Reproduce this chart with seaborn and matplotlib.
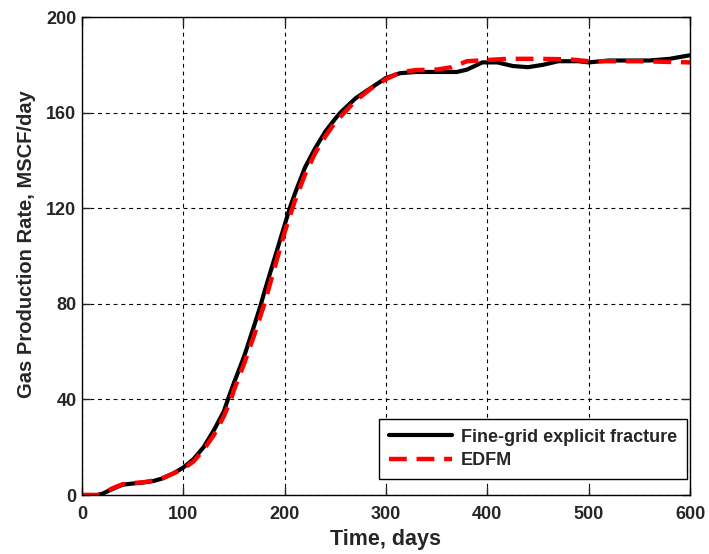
import matplotlib
matplotlib.use("Agg")
import matplotlib.pyplot as plt
import seaborn as sns
import pandas as pd

# Fine-grid explicit fracture
fine_days = [0, 15, 20, 30, 40, 50, 60, 70, 80, 90, 100, 110, 120, 130, 140, 144, 150,
             160, 170, 176, 180, 190, 200, 205, 210, 220, 230, 240, 250, 255, 270, 284,
             300, 314, 330, 350, 370, 380, 395, 410, 425, 440, 455, 470, 490, 500, 520,
             560, 580, 600]
fine_rate = [0, 0, 0.5, 2.5, 4.3, 4.8, 5.2, 5.8, 7, 9, 11.5, 15, 20, 27, 35, 40, 47,
             58, 71, 79, 85, 99, 113, 120, 126, 137, 145, 152, 157.5, 160, 166, 170,
             174.5, 176.5, 177, 177, 177, 178, 181, 181, 179.5, 179, 180, 181.5, 181.5, 181, 181.8,
             181.8, 182.5, 184]

# EDFM
edfm_days = [0, 15, 20, 30, 40, 50, 60, 70, 80, 90, 100, 110, 120, 130, 140, 147, 150,
             160, 170, 180, 190, 200, 210, 220, 230, 240, 250, 260, 270, 285, 300, 315,
             330, 350, 365, 380, 400, 420, 450, 480, 500, 550, 600]
edfm_rate = [0, 0, 0.5, 2.8, 4.5, 5, 5.3, 6, 7.2, 9, 11, 14, 19, 25, 33, 40, 44,
             55, 67, 80, 95, 110, 123, 134, 143, 150, 156, 160.5, 165, 170, 174, 177,
             177.8, 178, 179, 181.5, 182, 182.5, 182.5, 182.3, 181.5, 181.5, 181]

x_ticks = [0, 100, 200, 300, 400, 500, 600]
y_ticks = [0, 40, 80, 120, 160, 200]

sns.set_style("white")
plt.rcParams['font.family'] = ['Liberation Sans', 'DejaVu Sans']

fig = plt.figure(figsize=(7.09, 5.54), dpi=100)
ax = fig.add_axes([82/709, 59/554, 608/709, 478/554])

df_fine = pd.DataFrame({"days": fine_days, "rate": fine_rate})
df_edfm = pd.DataFrame({"days": edfm_days, "rate": edfm_rate})

sns.lineplot(data=df_fine, x="days", y="rate", ax=ax, color="black", lw=3,
             label="Fine-grid explicit fracture")
sns.lineplot(data=df_edfm, x="days", y="rate", ax=ax, color="#ff0000", lw=3.2,
             dashes=False, label="EDFM")
ax.lines[1].set_dashes((4, 2.2))

ax.set_xlim(0, 600)
ax.set_ylim(0, 200)
ax.set_xticks(x_ticks)
ax.set_yticks(y_ticks)
ax.set_xticklabels([str(v) for v in x_ticks], fontsize=13, fontweight="bold")
ax.set_yticklabels([str(v) for v in y_ticks], fontsize=13, fontweight="bold")
ax.grid(True, color="black", linestyle=(0, (3.5, 3.5)), linewidth=0.8)
ax.tick_params(direction="in", length=6, width=1, top=True, right=True,
               bottom=True, left=True)
ax.tick_params(axis="x", pad=8)
ax.tick_params(axis="y", pad=4)
for s in ax.spines.values():
    s.set_color("black")
    s.set_linewidth(1)

ax.set_xlabel("Time, days", fontsize=15.5, fontweight="bold", labelpad=4)
ax.set_ylabel("Gas Production Rate, MSCF/day", fontsize=14.5, fontweight="bold")
ax.yaxis.set_label_coords(-0.075, 0.525)

leg = ax.legend(loc="lower right", prop={"weight": "bold", "size": 13},
                handlelength=3.5, handletextpad=0.5, frameon=True, fancybox=False,
                edgecolor="black", framealpha=1, borderaxespad=0, borderpad=0.55,
                labelspacing=0.35, bbox_to_anchor=(687/709, (554-479)/554),
                bbox_transform=fig.transFigure)
leg.get_frame().set_linewidth(1)

fig.savefig("out.png", dpi=100)
